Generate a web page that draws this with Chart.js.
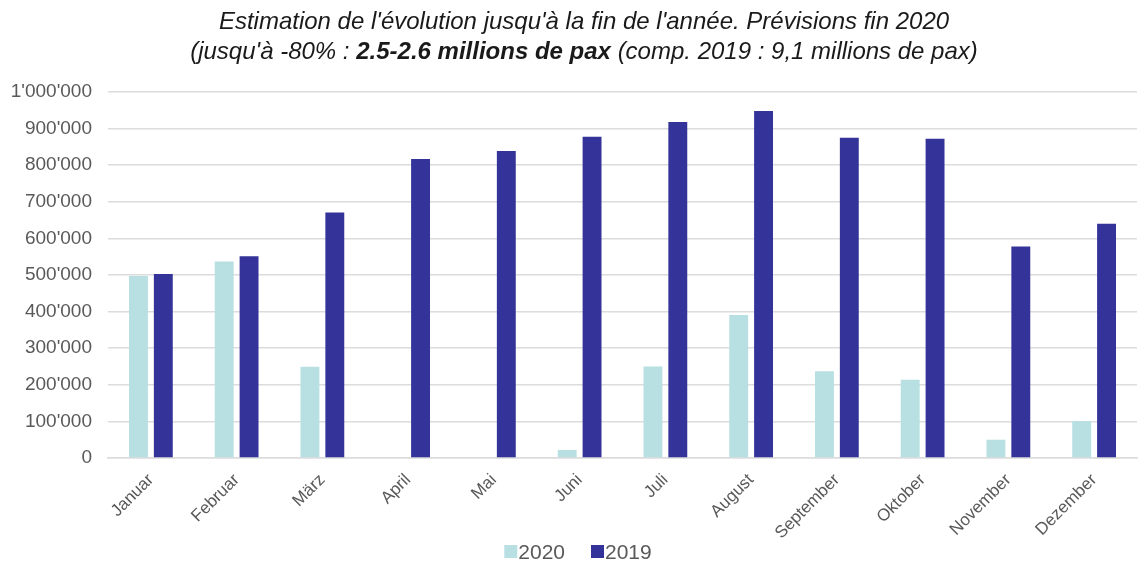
<!DOCTYPE html>
<html>
<head>
<meta charset="utf-8">
<script src="https://cdn.jsdelivr.net/npm/chart.js@4.4.0/dist/chart.umd.min.js"></script>
<style>
  html, body { margin: 0; padding: 0; background: #fff; }
  #wrap { width: 1139px; height: 561px; position: relative; }
</style>
</head>
<body>
<div id="wrap"><canvas id="graficoPax" width="1139" height="561"></canvas></div>
<script>
// Données
const mois = ['Januar', 'Februar', 'März', 'April', 'Mai', 'Juni', 'Juli', 'August', 'September', 'Oktober', 'November', 'Dezember'];
const pax2020 = [497000, 537000, 249000, 0, 2000, 22000, 250000, 391000, 237000, 214000, 50000, 101000];
const pax2019 = [503000, 551000, 671000, 817000, 839000, 878000, 918000, 948000, 875000, 872000, 578000, 640000];
const yTicks = [0, 100000, 200000, 300000, 400000, 500000, 600000, 700000, 800000, 900000, 1000000];

const titreLigne1 = "Estimation de l'évolution jusqu'à la fin de l'année. Prévisions fin 2020";
const titreLigne2 = [
    { texte: "(jusqu'à -80% : ", gras: false },
    { texte: "2.5-2.6 millions de pax", gras: true },
    { texte: " (comp. 2019 : 9,1 millions de pax)", gras: false }
];

const police = "'Liberation Sans', Arial, sans-serif";
const gris = '#595959';

// Titre sur deux lignes avec une partie en gras
const pluginTitre = {
    id: 'titreMixte',
    afterDraw(chart) {
        const ctx = chart.ctx;
        const cx = 584;
        ctx.save();
        ctx.fillStyle = '#1a1a1a';
        ctx.textBaseline = 'middle';
        ctx.textAlign = 'center';
        ctx.font = 'italic 24px ' + police;
        ctx.fillText(titreLigne1, cx, 22);

        ctx.textAlign = 'left';
        let total = 0;
        titreLigne2.forEach(p => {
            ctx.font = (p.gras ? 'italic bold 24px ' : 'italic 24px ') + police;
            p.w = ctx.measureText(p.texte).width;
            total += p.w;
        });
        let x = cx - total / 2;
        titreLigne2.forEach(p => {
            ctx.font = (p.gras ? 'italic bold 24px ' : 'italic 24px ') + police;
            ctx.fillText(p.texte, x, 52);
            x += p.w;
        });
        ctx.restore();
    }
};

// Légende en bas, serrée contre les étiquettes de l'axe x
const pluginLegende = {
    id: 'legendeBas',
    afterDraw(chart) {
        const ctx = chart.ctx;
        const carre = 13, ecart = 1, entre = 26;
        ctx.save();
        ctx.font = '21px ' + police;
        ctx.textBaseline = 'alphabetic';
        ctx.textAlign = 'left';
        const items = chart.data.datasets.map(ds => ({
            label: ds.label,
            couleur: ds.backgroundColor,
            w: carre + ecart + ctx.measureText(ds.label).width
        }));
        const total = items.reduce((s, it) => s + it.w, 0) + entre * (items.length - 1);
        let x = 578 - total / 2;
        items.forEach(it => {
            ctx.fillStyle = it.couleur;
            ctx.fillRect(x, 545, carre, carre);
            ctx.fillStyle = gris;
            ctx.fillText(it.label, x + carre + ecart, 559);
            x += it.w + entre;
        });
        ctx.restore();
    }
};

const formatApostrophe = v => String(v).replace(/\B(?=(\d{3})+(?!\d))/g, "'");

const ctx = document.getElementById('graficoPax').getContext('2d');
new Chart(ctx, {
    type: 'bar',
    data: {
        labels: mois,
        datasets: [
            {
                label: '2020',
                data: pax2020,
                backgroundColor: '#b8dfe2',
                categoryPercentage: 0.58,
                barPercentage: 0.76
            },
            {
                label: '2019',
                data: pax2019,
                backgroundColor: '#333399',
                categoryPercentage: 0.58,
                barPercentage: 0.76
            }
        ]
    },
    options: {
        responsive: false,
        animation: false,
        layout: {
            padding: { top: 92, right: 2, left: 0, bottom: 0 }
        },
        plugins: {
            legend: { display: false },
            title: { display: false },
            tooltip: { enabled: false }
        },
        scales: {
            y: {
                min: 0,
                max: 1000000,
                afterBuildTicks: axis => { axis.ticks = yTicks.map(v => ({ value: v })); },
                afterFit: axis => { axis.width = 108; },
                ticks: {
                    color: gris,
                    font: { size: 19, family: police },
                    padding: 16,
                    callback: v => formatApostrophe(v)
                },
                grid: { color: '#dcdcdc', lineWidth: 1.5, drawTicks: false },
                border: { display: false }
            },
            x: {
                afterFit: axis => { axis.height = 103; },
                ticks: {
                    color: gris,
                    font: { size: 17, family: police },
                    minRotation: 45,
                    maxRotation: 45,
                    padding: 4
                },
                grid: { display: false },
                border: { color: '#dcdcdc', width: 1.5 }
            }
        }
    },
    plugins: [pluginTitre, pluginLegende]
});
</script>
</body>
</html>
